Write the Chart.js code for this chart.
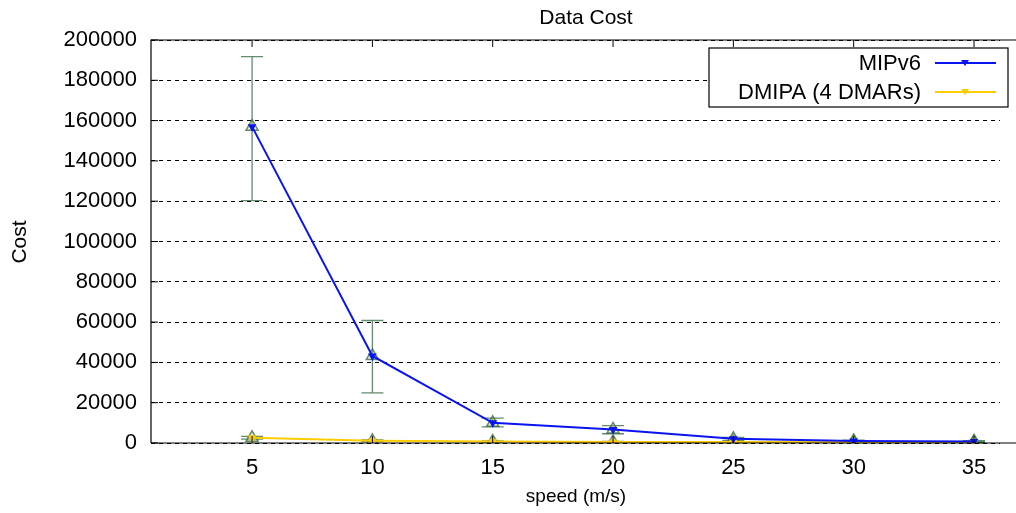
<!DOCTYPE html>
<html>
<head>
<meta charset="utf-8">
<script src="https://cdn.jsdelivr.net/npm/chart.js@4"></script>
<style>
html,body{margin:0;padding:0;background:#fff;overflow:hidden;}
#wrap{position:relative;width:1016px;height:513px;}
</style>
</head>
<body>
<div id="wrap"><canvas id="c" width="1016" height="513"></canvas></div>
<script>
// ---- data ----
const speeds = [5, 10, 15, 20, 25, 30, 35];
const mipv6 = [157000, 43200, 10000, 6700, 2100, 1000, 800];
const mipv6Low = [120300, 24900, 8000, 4600, 1300, 600, 400];
const mipv6High = [191700, 60800, 12300, 8600, 2800, 1400, 1200];
const dmipa = [2600, 1100, 700, 550, 450, 380, 320];
const dmipaLow = [1900, 700, 400, 300, 250, 200, 150];
const dmipaHigh = [3300, 1500, 1000, 800, 650, 560, 490];
const xTicks = [5, 10, 15, 20, 25, 30, 35];
const yTicks = [0, 20000, 40000, 60000, 80000, 100000, 120000, 140000, 160000, 180000, 200000];
const seriesNames = ['MIPv6', 'DMIPA (4 DMARs)'];
const chartTitle = 'Data Cost';
const xTitle = 'speed (m/s)';
const yTitle = 'Cost';

const FONT = 'Liberation Sans, Arial, Helvetica, sans-serif';
const ERR = 'rgba(47,100,60,0.75)';
const BLUE = '#0a14f0';
const YEL = '#ffcc00';

const pts = (ys) => speeds.map((x, i) => ({x: x, y: ys[i]}));

const errors = [
  {low: mipv6Low, high: mipv6High},
  {low: dmipaLow, high: dmipaHigh}
];

const decor = {
  id: 'decor',
  beforeDatasetsDraw(chart) {
    const {ctx, scales: {x, y}} = chart;
    ctx.save();
    ctx.strokeStyle = ERR;
    ctx.lineWidth = 1.3;
    errors.forEach(e => {
      speeds.forEach((s, i) => {
        const px = x.getPixelForValue(s);
        const yl = y.getPixelForValue(e.low[i]);
        const yh = y.getPixelForValue(e.high[i]);
        ctx.beginPath();
        ctx.moveTo(px, yl); ctx.lineTo(px, yh);
        ctx.moveTo(px - 11, yl); ctx.lineTo(px + 11, yl);
        ctx.moveTo(px - 11, yh); ctx.lineTo(px + 11, yh);
        ctx.stroke();
      });
    });
    ctx.restore();
  },
  afterDraw(chart) {
    const {ctx, chartArea: a, scales: {x, y}} = chart;
    const W = chart.width;
    ctx.save();
    // frame
    ctx.strokeStyle = '#000';
    ctx.lineWidth = 1.2;
    ctx.beginPath();
    ctx.moveTo(a.left, a.bottom); ctx.lineTo(a.left, a.top); ctx.lineTo(W, a.top);
    ctx.moveTo(a.left, a.bottom); ctx.lineTo(W, a.bottom);
    ctx.stroke();
    // inward ticks
    ctx.lineWidth = 1;
    ctx.beginPath();
    xTicks.forEach(v => {
      const px = x.getPixelForValue(v);
      ctx.moveTo(px, a.bottom); ctx.lineTo(px, a.bottom - 7);
      ctx.moveTo(px, a.top); ctx.lineTo(px, a.top + 7);
    });
    yTicks.forEach(v => {
      const py = y.getPixelForValue(v);
      ctx.moveTo(a.left, py); ctx.lineTo(a.left + 7, py);
    });
    ctx.stroke();
    // titles
    ctx.fillStyle = '#000';
    ctx.textAlign = 'center';
    ctx.textBaseline = 'middle';
    ctx.font = '21px ' + FONT;
    ctx.fillText(chartTitle, 586, 18);
    ctx.font = '19px ' + FONT;
    ctx.fillText(xTitle, 576, 497);
    ctx.font = '21px ' + FONT;
    ctx.save();
    ctx.translate(20, 242);
    ctx.rotate(-Math.PI / 2);
    ctx.fillText(yTitle, 0, 0);
    ctx.restore();
    // legend
    const lx = 709, ly = 48, lw = 299, lh = 59;
    ctx.fillStyle = '#fff';
    ctx.fillRect(lx, ly, lw, lh);
    ctx.strokeStyle = '#000';
    ctx.lineWidth = 1.2;
    ctx.strokeRect(lx, ly, lw, lh);
    const cols = [BLUE, YEL];
    seriesNames.forEach((n, i) => {
      const yy = 63 + i * 29;
      ctx.fillStyle = '#000';
      ctx.textAlign = 'right';
      ctx.font = '22px ' + FONT;
      ctx.fillText(n, 921, yy + 1);
      ctx.strokeStyle = cols[i];
      ctx.lineWidth = 1.8;
      ctx.beginPath(); ctx.moveTo(935, yy); ctx.lineTo(996, yy); ctx.stroke();
      ctx.fillStyle = cols[i];
      ctx.beginPath();
      ctx.moveTo(961, yy - 3); ctx.lineTo(969, yy - 3); ctx.lineTo(965, yy + 3);
      ctx.closePath(); ctx.fill();
    });
    ctx.restore();
  }
};

new Chart(document.getElementById('c'), {
  type: 'scatter',
  data: {
    datasets: [
      {label: seriesNames[0], data: pts(mipv6), showLine: true, borderColor: BLUE, backgroundColor: BLUE,
       borderWidth: 2, pointStyle: 'triangle', rotation: 180, pointRadius: 3, order: 1},
      {label: seriesNames[1], data: pts(dmipa), showLine: true, borderColor: YEL, backgroundColor: YEL,
       borderWidth: 2, pointStyle: 'triangle', rotation: 180, pointRadius: 3, order: 2},
      {label: 'err1', data: pts(mipv6), showLine: false, borderColor: ERR, backgroundColor: 'rgba(200,220,120,0.35)',
       borderWidth: 1.5, pointStyle: 'triangle', pointRadius: 7, order: 3},
      {label: 'err2', data: pts(dmipa), showLine: false, borderColor: ERR, backgroundColor: 'rgba(200,220,120,0.35)',
       borderWidth: 1.5, pointStyle: 'triangle', pointRadius: 7, order: 4}
    ]
  },
  options: {
    responsive: false,
    animation: false,
    devicePixelRatio: 1,
    layout: {padding: {left: 0, right: 16, top: 40, bottom: 0}},
    plugins: {legend: {display: false}, title: {display: false}, tooltip: {enabled: false}},
    scales: {
      x: {
        type: 'linear', min: 0.8, max: 36.08,
        afterBuildTicks: (s) => { s.ticks = xTicks.map(v => ({value: v})); },
        grid: {display: false, drawTicks: false},
        border: {display: false},
        ticks: {color: '#000', font: {family: FONT, size: 22}, padding: 12},
        afterFit: (s) => { s.height = 70; }
      },
      y: {
        type: 'linear', min: 0, max: 200000,
        afterBuildTicks: (s) => { s.ticks = yTicks.map(v => ({value: v})); },
        grid: {color: '#000', lineWidth: 1, drawTicks: false},
        border: {display: false, dash: [4, 4]},
        ticks: {color: '#000', font: {family: FONT, size: 22}, padding: 14, callback: (v) => String(v)},
        afterFit: (s) => { s.width = 151; }
      }
    }
  },
  plugins: [decor]
});
</script>
</body>
</html>
